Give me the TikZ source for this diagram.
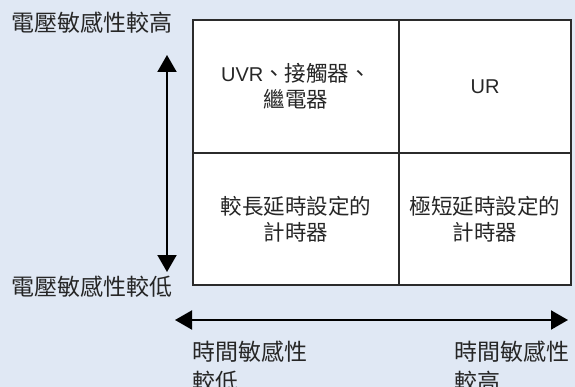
\documentclass[tikz,border=0pt]{standalone}
\usepackage{fontspec}
\setmainfont{Noto Sans CJK TC}
\newfontfamily\latinfont{Liberation Sans}
\usetikzlibrary{arrows.meta}
\definecolor{bgc}{HTML}{E0E8F4}
\definecolor{linec}{HTML}{2B2B2B}
\begin{document}
\begin{tikzpicture}[x=1pt,y=-1pt,
  cell/.style={draw=linec,line width=1.4pt,fill=white,inner sep=0pt,align=center,
    font=\fontsize{21.5}{26}\selectfont,text=black!85},
  lab/.style={inner sep=0pt,font=\fontsize{23}{30}\selectfont,text=black!85,align=left},
  axis/.style={line width=2pt,black,{Triangle[width=19pt,length=17pt]}-{Triangle[width=19pt,length=17pt]}}]
\fill[bgc] (0,0) rectangle (575,387);
\useasboundingbox (0,0) rectangle (575,387);
\node[cell,minimum width=206pt,minimum height=133pt] (tl) at (296,86.5) {{\latinfont\fontsize{20}{26}\selectfont UVR}、接觸器、\\繼電器};
\node[cell,minimum width=172pt,minimum height=133pt] (tr) at (485,86.5) {\latinfont\fontsize{20}{26}\selectfont UR};
\node[cell,minimum width=206pt,minimum height=132pt] (bl) at (296,219) {較長延時設定的\\計時器};
\node[cell,minimum width=172pt,minimum height=132pt] (br) at (485,219) {極短延時設定的\\計時器};
\node[lab,anchor=base west] (vhi) at (11,32) {電壓敏感性較高};
\node[lab,anchor=base west] (vlo) at (11,295) {電壓敏感性較低};
\node[lab,anchor=base west] (tlo) at (192,390) {時間敏感性\\較低};
\node[lab,anchor=base west] (thi) at (454,390) {時間敏感性\\較高};
\coordinate (vtop) at (167,55);
\coordinate (vbot) at (167,272);
\coordinate (hl) at (175,320);
\coordinate (hr) at (568,320);
\draw[axis] (vtop) -- (vbot);
\draw[axis] (hl) -- (hr);
\end{tikzpicture}
\end{document}
